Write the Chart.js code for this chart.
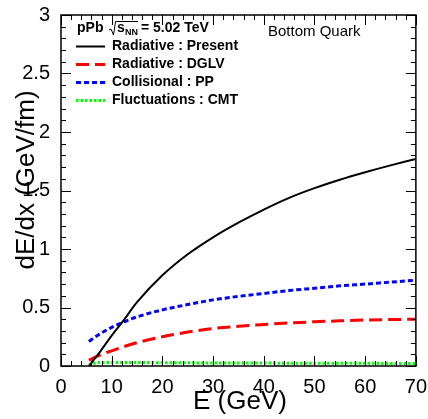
<!DOCTYPE html>
<html>
<head>
<meta charset="utf-8">
<script src="https://cdn.jsdelivr.net/npm/chart.js@4"></script>
<style>
  html, body { margin: 0; padding: 0; background: #fff; }
  #wrap { width: 428px; height: 419px; }
</style>
</head>
<body>
<div id="wrap"><canvas id="eloss-chart"></canvas></div>
<script>
// values (E in GeV, dE/dx in GeV/fm)
const energy = [5.5, 7.5, 10, 12, 15, 20, 25, 30, 35, 40, 45, 50, 55, 60, 65, 70];
const radPresent = [0, 0.11, 0.26, 0.37, 0.545, 0.775, 0.955, 1.10, 1.225, 1.337, 1.437, 1.52, 1.592, 1.656, 1.715, 1.77];
const radDGLV = [0.05, 0.09, 0.13, 0.16, 0.20, 0.25, 0.29, 0.32, 0.34, 0.355, 0.368, 0.378, 0.386, 0.393, 0.397, 0.40];
const collPP = [0.21, 0.27, 0.33, 0.37, 0.42, 0.48, 0.525, 0.565, 0.595, 0.62, 0.645, 0.665, 0.685, 0.70, 0.717, 0.733];
const flucCMT = [0.01, 0.03, 0.03, 0.03, 0.03, 0.028, 0.027, 0.026, 0.025, 0.025, 0.024, 0.024, 0.023, 0.023, 0.022, 0.022];

const seriesLabels = ['Radiative : Present', 'Radiative : DGLV', 'Collisional : PP', 'Fluctuations : CMT'];
const xTitle = 'E (GeV)';
const yTitle = 'dE/dx (GeV/fm)';
const FONT = '"Liberation Sans", Arial, Helvetica, sans-serif';

function pts(ys) {
    return energy.map((e, i) => ({x: e, y: ys[i]}));
}

// frame, inward ticks, titles and the legend box, ROOT style
const rootStyle = {
    id: 'rootStyle',
    afterDraw(chart) {
        const ctx = chart.ctx;
        const a = chart.chartArea;
        const xs = chart.scales.x, ys = chart.scales.y;
        ctx.save();
        ctx.strokeStyle = '#000';
        ctx.lineWidth = 1;
        // x ticks, top and bottom
        for (let v = 0; v <= 70; v += 2) {
            const px = Math.round(xs.getPixelForValue(v)) + 0.5;
            const len = v % 10 === 0 ? 10 : 5;
            ctx.beginPath();
            ctx.moveTo(px, a.bottom); ctx.lineTo(px, a.bottom - len);
            ctx.moveTo(px, a.top); ctx.lineTo(px, a.top + len);
            ctx.stroke();
        }
        // y ticks, left and right
        for (let k = 0; k <= 30; k++) {
            const py = Math.round(ys.getPixelForValue(k / 10)) + 0.5;
            const len = k % 5 === 0 ? 10 : 5;
            ctx.beginPath();
            ctx.moveTo(a.left, py); ctx.lineTo(a.left + len, py);
            ctx.moveTo(a.right, py); ctx.lineTo(a.right - len, py);
            ctx.stroke();
        }
        ctx.lineWidth = 1.5;
        ctx.strokeRect(a.left, a.top, a.right - a.left, a.bottom - a.top);

        // axis titles
        ctx.fillStyle = '#000';
        ctx.font = '26px ' + FONT;
        ctx.textAlign = 'center';
        ctx.textBaseline = 'middle';
        ctx.fillText(xTitle, 240, 402);
        ctx.save();
        ctx.translate(27, 180);
        ctx.rotate(-Math.PI / 2);
        ctx.fillText(yTitle, 0, 0);
        ctx.restore();

        // text inside the frame
        ctx.textAlign = 'left';
        ctx.font = '15px ' + FONT;
        ctx.fillText('Bottom Quark', 268, 32);

        ctx.font = 'bold 14px ' + FONT;
        ctx.fillText('pPb', 77, 28);
        ctx.lineWidth = 1;
        ctx.beginPath();
        ctx.moveTo(109, 30); ctx.lineTo(111, 29);
        ctx.lineTo(113.5, 35); ctx.lineTo(115.5, 21.5); ctx.lineTo(138, 21.5);
        ctx.stroke();
        ctx.fillText('s', 117, 28);
        ctx.font = 'bold 9px ' + FONT;
        ctx.fillText('NN', 125, 33);
        ctx.font = 'bold 14px ' + FONT;
        ctx.fillText('= 5.02 TeV', 141, 28);

        chart.data.datasets.forEach((ds, i) => {
            const y = 46.5 + i * 18;
            ctx.save();
            ctx.strokeStyle = ds.borderColor;
            ctx.lineWidth = ds.borderWidth;
            ctx.setLineDash(ds.borderDash || []);
            ctx.beginPath();
            ctx.moveTo(76, y); ctx.lineTo(105, y);
            ctx.stroke();
            ctx.restore();
            ctx.fillText(ds.label, 112, y);
        });
        ctx.restore();
    }
};

const ctx = document.getElementById('eloss-chart');
new Chart(ctx, {
    type: 'line',
    data: {
        datasets: [{
            label: seriesLabels[0],
            data: pts(radPresent),
            borderColor: '#000000',
            borderWidth: 2,
        }, {
            label: seriesLabels[1],
            data: pts(radDGLV),
            borderColor: '#ff0000',
            borderWidth: 3,
            borderDash: [13, 6],
        }, {
            label: seriesLabels[2],
            data: pts(collPP),
            borderColor: '#0000ff',
            borderWidth: 3,
            borderDash: [5, 3],
        }, {
            label: seriesLabels[3],
            data: pts(flucCMT),
            borderColor: '#00ff00',
            borderWidth: 3,
            borderDash: [2.5, 2],
        }]
    },
    options: {
        responsive: true,
        maintainAspectRatio: false,
        animation: false,
        layout: {padding: {left: 0, right: 10, top: 12, bottom: 0}},
        elements: {
            point: {radius: 0},
            line: {cubicInterpolationMode: 'monotone', fill: false}
        },
        plugins: {
            legend: {display: false},
            tooltip: {enabled: false}
        },
        scales: {
            x: {
                type: 'linear',
                min: 0,
                max: 70,
                grid: {display: false},
                border: {display: false},
                ticks: {
                    stepSize: 10,
                    autoSkip: false,
                    maxRotation: 0,
                    padding: 1,
                    color: '#000',
                    font: {family: FONT, size: 20}
                },
                afterFit(scale) { scale.height = 53; }
            },
            y: {
                min: 0,
                max: 3,
                grid: {display: false},
                border: {display: false},
                ticks: {
                    stepSize: 0.5,
                    autoSkip: false,
                    padding: 3,
                    color: '#000',
                    font: {family: FONT, size: 20},
                    callback: v => String(v)
                },
                afterFit(scale) { scale.width = 61; }
            }
        }
    },
    plugins: [rootStyle]
});
</script>
</body>
</html>
